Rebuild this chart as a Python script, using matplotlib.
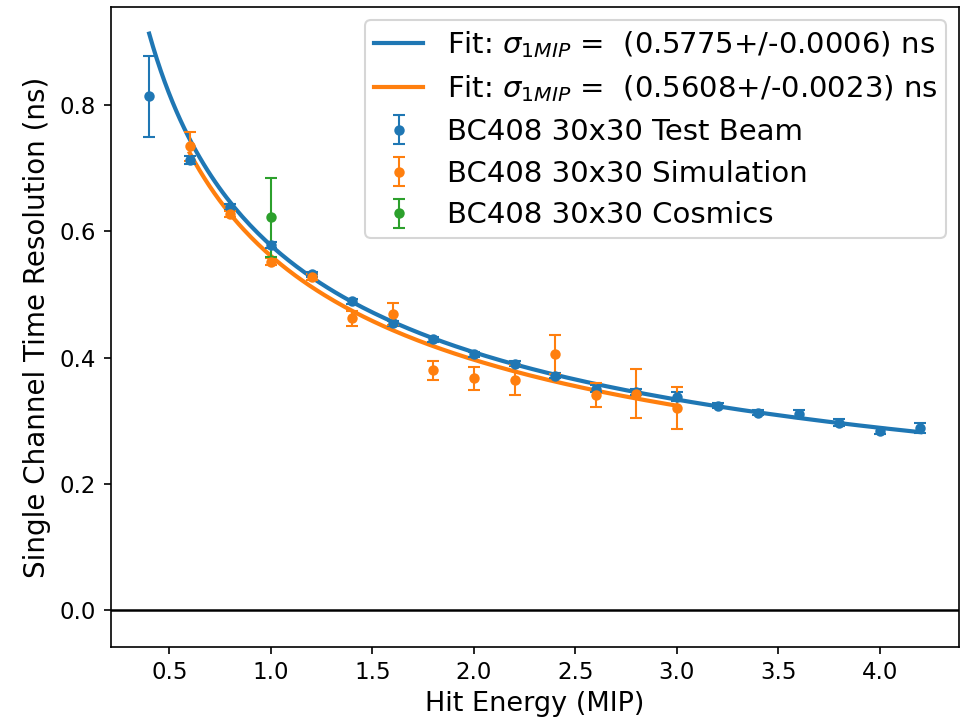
import numpy as np
import matplotlib
matplotlib.use("Agg")
import matplotlib.pyplot as plt

# ── Data ──────────────────────────────────────────────────────────────────
beam_e   = [0.4, 0.6, 0.8, 1.0, 1.2, 1.4, 1.6, 1.8, 2.0, 2.2, 2.4, 2.6, 2.8,
            3.0, 3.2, 3.4, 3.6, 3.8, 4.0, 4.2]
beam_res = [0.814, 0.713, 0.638, 0.578, 0.532, 0.489, 0.454, 0.429, 0.405,
            0.390, 0.371, 0.351, 0.345, 0.338, 0.324, 0.313, 0.311, 0.297,
            0.284, 0.289]
beam_err = [0.064, 0.006, 0.005, 0.005, 0.004, 0.004, 0.004, 0.004, 0.004,
            0.004, 0.004, 0.005, 0.005, 0.007, 0.004, 0.004, 0.006, 0.005,
            0.005, 0.008]

sim_e   = [0.6, 0.8, 1.0, 1.2, 1.4, 1.6, 1.8, 2.0, 2.2, 2.4, 2.6, 2.8, 3.0]
sim_res = [0.735, 0.627, 0.552, 0.528, 0.462, 0.469, 0.380, 0.367, 0.365,
           0.405, 0.340, 0.343, 0.320]
sim_err = [0.023, 0.005, 0.005, 0.005, 0.012, 0.017, 0.015, 0.018, 0.024,
           0.031, 0.019, 0.039, 0.033]

cos_e   = [1.0]
cos_res = [0.622]
cos_err = [0.063]

# fit results: sigma(E) = sigma_1MIP / sqrt(E)
fit_beam = (0.5775, 0.0006)
fit_sim  = (0.5608, 0.0023)

C0, C1, C2 = "#1f77b4", "#ff7f0e", "#2ca02c"


def main():
    fig, ax = plt.subplots(figsize=(6.413, 4.78), dpi=150)

    e_beam = np.linspace(min(beam_e), max(beam_e), 200)
    e_sim = np.linspace(min(sim_e), max(sim_e), 200)
    ax.plot(e_beam, fit_beam[0] / np.sqrt(e_beam), color=C0, linewidth=2,
            label=r"Fit: $\sigma_{1MIP}$ =  (%.4f+/-%.4f) ns" % fit_beam)
    ax.plot(e_sim, fit_sim[0] / np.sqrt(e_sim), color=C1, linewidth=2,
            label=r"Fit: $\sigma_{1MIP}$ =  (%.4f+/-%.4f) ns" % fit_sim)

    ax.errorbar(beam_e, beam_res, yerr=beam_err, fmt="o", color=C0,
                markersize=4, elinewidth=1, capsize=3,
                label="BC408 30x30 Test Beam")
    ax.errorbar(sim_e, sim_res, yerr=sim_err, fmt="o", color=C1,
                markersize=4, elinewidth=1, capsize=3,
                label="BC408 30x30 Simulation")
    ax.errorbar(cos_e, cos_res, yerr=cos_err, fmt="o", color=C2,
                markersize=4, elinewidth=1, capsize=3,
                label="BC408 30x30 Cosmics")

    ax.axhline(0, color="black", linewidth=1.2)

    ax.set_xlim(0.21, 4.39)
    ax.set_ylim(-0.058, 0.955)
    ax.set_xticks([0.5, 1.0, 1.5, 2.0, 2.5, 3.0, 3.5, 4.0])
    ax.set_yticks([0.0, 0.2, 0.4, 0.6, 0.8])
    ax.tick_params(labelsize=11)

    ax.set_xlabel("Hit Energy (MIP)", fontsize=13, labelpad=3)
    ax.set_ylabel("Single Channel Time Resolution (ns)", fontsize=13.3)

    ax.legend(loc="upper right", fontsize=14, handlelength=1.7,
              labelspacing=0.47, borderpad=0.3, borderaxespad=0.45)

    fig.subplots_adjust(left=0.115, right=0.997, top=0.99, bottom=0.098)
    fig.savefig("out.png", dpi=150)


if __name__ == "__main__":
    main()
